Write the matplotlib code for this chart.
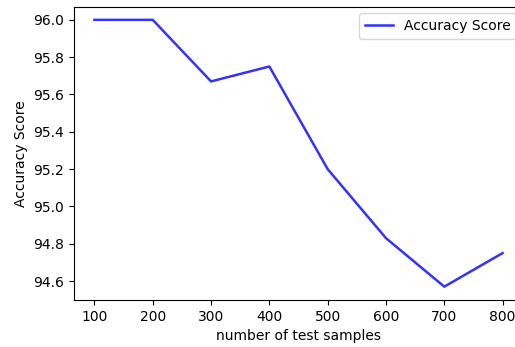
import matplotlib
matplotlib.use("Agg")
import matplotlib.pyplot as plt

samples = [100, 200, 300, 400, 500, 600, 700, 800]
accuracy = [96.0, 96.0, 95.67, 95.75, 95.2, 94.83, 94.57, 94.75]

plt.rcParams['font.family'] = ['DejaVu Sans']
plt.rcParams['font.size'] = 10

fig = plt.figure(figsize=(5.15, 3.47), dpi=100)
W, H = 515, 347
ax = fig.add_axes([74 / W, 1 - 300 / H, (523 - 74) / W, (300 - 6.5) / H])
ax.plot(samples, accuracy, color='blue', alpha=0.8, linewidth=1.8, label='Accuracy Score')
ax.set_xlabel('number of test samples')
ax.set_ylabel('Accuracy Score')
ax.legend(loc='upper right')
fig.savefig('out.png', dpi=100)
